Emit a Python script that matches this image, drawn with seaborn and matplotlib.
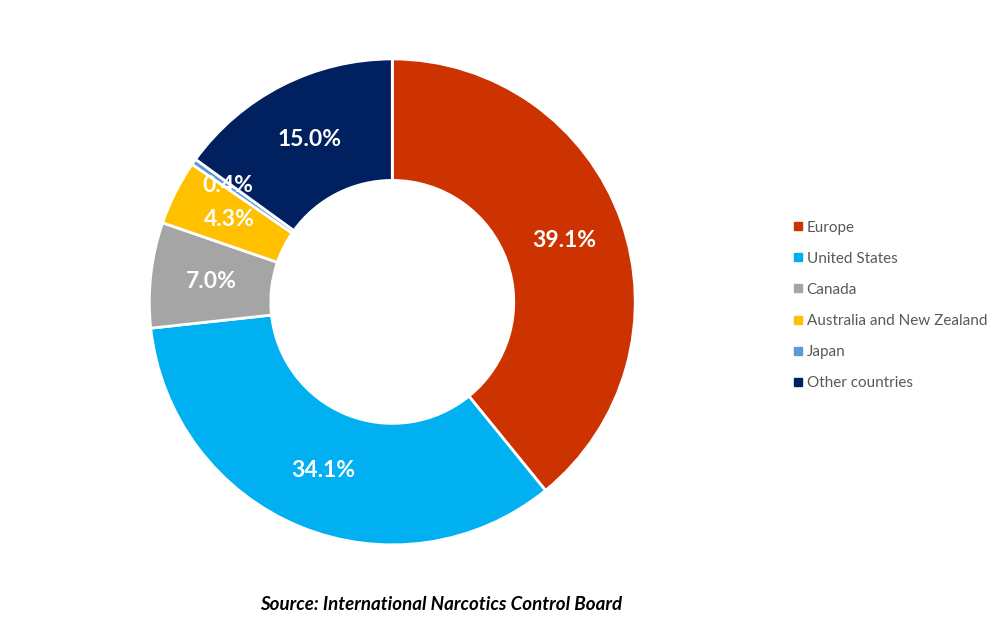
import matplotlib
matplotlib.use("Agg")
import numpy as np
import matplotlib.pyplot as plt
from matplotlib.lines import Line2D
import seaborn as sns

regions = ["Europe", "United States", "Canada", "Australia and New Zealand", "Japan", "Other countries"]
shares = [39.1, 34.1, 7.0, 4.3, 0.4, 15.0]
colors = ["#CC3300", "#00B0F0", "#A5A5A5", "#FFC000", "#5B9BD5", "#002060"]
source_text = "Source: International Narcotics Control Board"

sns.set_theme(style="white")
plt.rcParams['font.family'] = ['Lato', 'DejaVu Sans']

fig = plt.figure(figsize=(10.02, 6.27), dpi=100)
ax = fig.add_axes([0.149, 0.131, 0.485, 0.775])

wedges, texts, autotexts = ax.pie(
    shares, colors=colors, startangle=90, counterclock=False,
    autopct=lambda p: f"{p:.1f}%", pctdistance=0.75,
    wedgeprops=dict(width=0.5, edgecolor="white", linewidth=2),
    textprops=dict(color="white", fontsize=16.5, fontweight="bold"),
)
for t, v, w in zip(autotexts, shares, wedges):
    t.set_text(f"{v:.1f}%")
    if v < 1:
        ang = np.deg2rad((w.theta1 + w.theta2) / 2)
        t.set_position((0.83 * np.cos(ang), 0.83 * np.sin(ang)))
ax.set_aspect("equal")
ax.set_xlim(-1, 1)
ax.set_ylim(-1, 1)

handles = [Line2D([0], [0], marker="s", linestyle="none", markersize=6,
                  markerfacecolor=c, markeredgecolor=c) for c in colors]
leg = fig.legend(handles, regions, loc="upper left", bbox_to_anchor=(0.783, 0.658),
                 frameon=False, fontsize=11, labelspacing=1.12, handletextpad=0.05,
                 handlelength=1.0, borderaxespad=0)
for t in leg.get_texts():
    t.set_color("#595959")

fig.text(0.44, 0.036, source_text, ha="center", va="center", fontsize=13.5,
         fontweight="bold", fontstyle="italic", color="black")

fig.savefig("out.png", dpi=100)
